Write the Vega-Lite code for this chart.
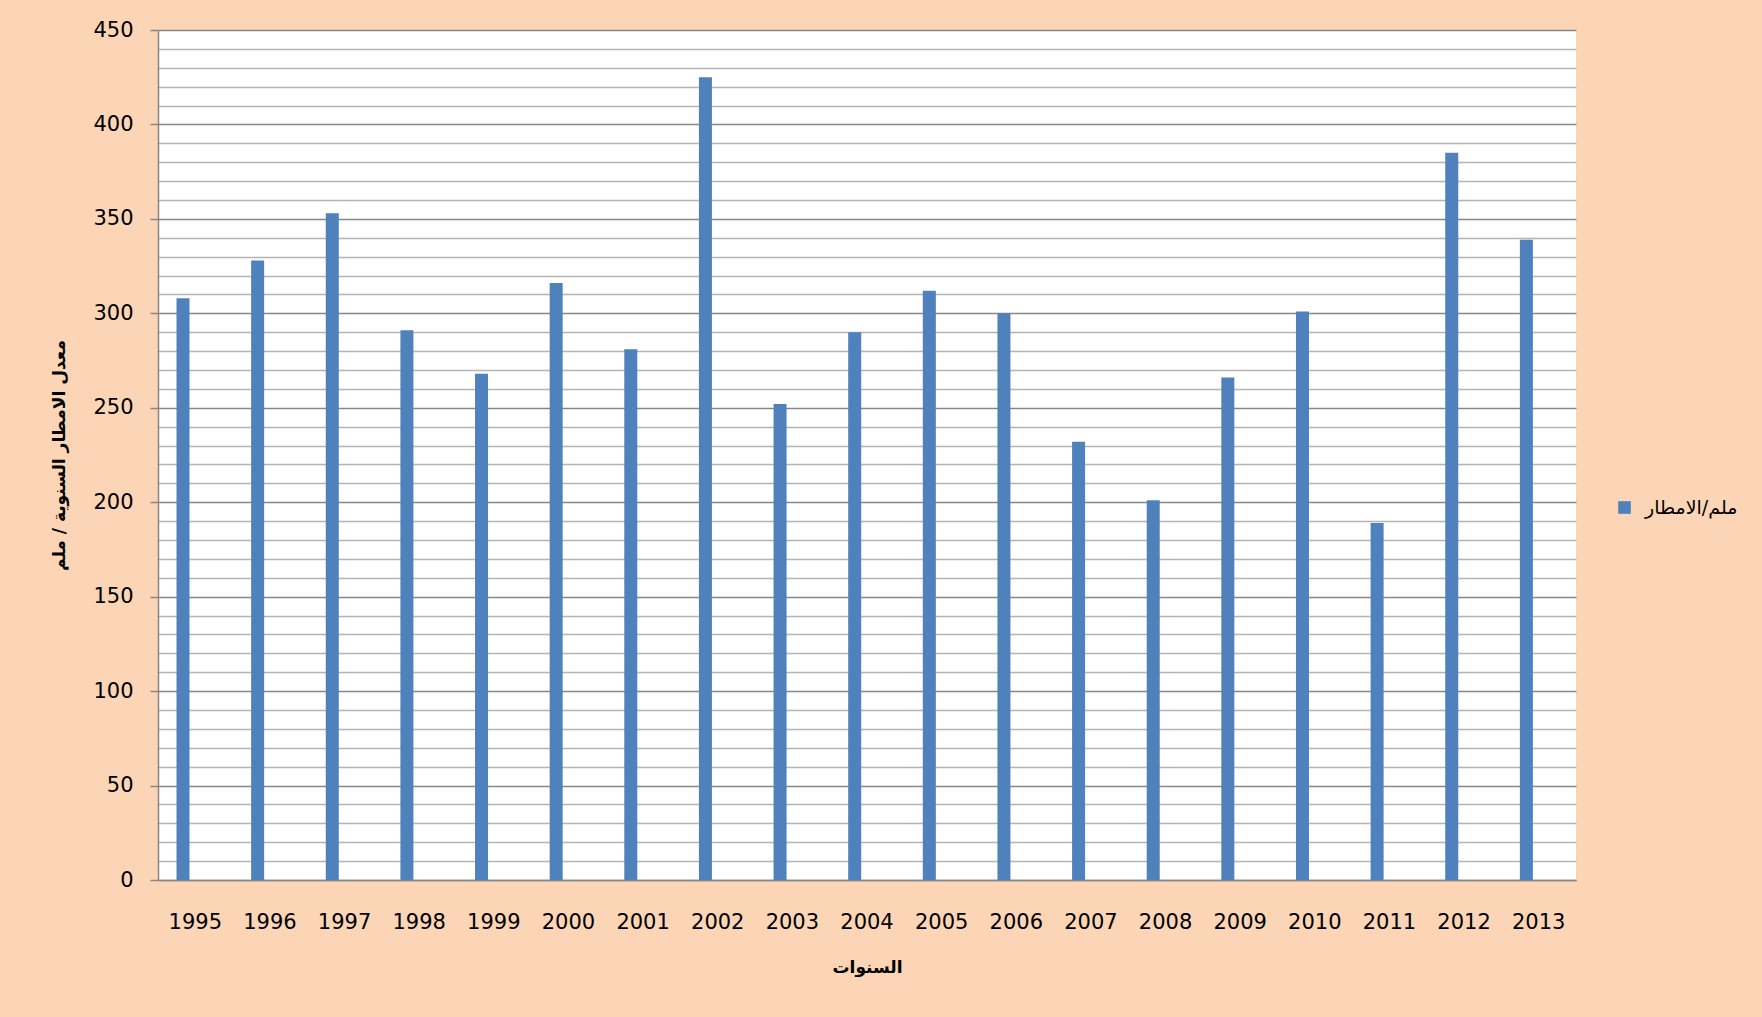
{
  "$schema": "https://vega.github.io/schema/vega-lite/v6.json",
  "width": 1418,
  "height": 850,
  "autosize": "none",
  "padding": {"left": 158, "top": 30, "right": 186, "bottom": 137},
  "background": "#FBD5B5",
  "config": {"view": {"fill": "#FFFFFF", "stroke": null}, "font": "DejaVu Sans"},
  "data": {"values": [
    {"year": "1995", "rain": 308, "series": "ملم/الامطار"},
    {"year": "1996", "rain": 328, "series": "ملم/الامطار"},
    {"year": "1997", "rain": 353, "series": "ملم/الامطار"},
    {"year": "1998", "rain": 291, "series": "ملم/الامطار"},
    {"year": "1999", "rain": 268, "series": "ملم/الامطار"},
    {"year": "2000", "rain": 316, "series": "ملم/الامطار"},
    {"year": "2001", "rain": 281, "series": "ملم/الامطار"},
    {"year": "2002", "rain": 425, "series": "ملم/الامطار"},
    {"year": "2003", "rain": 252, "series": "ملم/الامطار"},
    {"year": "2004", "rain": 290, "series": "ملم/الامطار"},
    {"year": "2005", "rain": 312, "series": "ملم/الامطار"},
    {"year": "2006", "rain": 300, "series": "ملم/الامطار"},
    {"year": "2007", "rain": 232, "series": "ملم/الامطار"},
    {"year": "2008", "rain": 201, "series": "ملم/الامطار"},
    {"year": "2009", "rain": 266, "series": "ملم/الامطار"},
    {"year": "2010", "rain": 301, "series": "ملم/الامطار"},
    {"year": "2011", "rain": 189, "series": "ملم/الامطار"},
    {"year": "2012", "rain": 385, "series": "ملم/الامطار"},
    {"year": "2013", "rain": 339, "series": "ملم/الامطار"}
  ]},
  "mark": {"type": "bar"},
  "encoding": {
    "x": {
      "field": "year", "type": "ordinal",
      "scale": {"paddingInner": 0, "paddingOuter": 0},
      "axis": {
        "title": "السنوات", "labelAngle": 0, "labelFontSize": 21, "labelColor": "#000000",
        "labelPadding": 31, "ticks": false, "domainColor": "#868686", "domainWidth": 1.5,
        "titleFontSize": 17, "titleFontWeight": "bold", "titlePadding": 27, "titleColor": "#000000"
      }
    },
    "xOffset": {
      "field": "series",
      "scale": {"domain": ["ملم/الامطار", "_"], "paddingInner": 0.472, "paddingOuter": 0.752}
    },
    "y": {
      "field": "rain", "type": "quantitative",
      "scale": {"domain": [0, 450], "nice": false},
      "axis": {
        "title": "معدل الامطار السنوية / ملم",
        "values": [0,10,20,30,40,50,60,70,80,90,100,110,120,130,140,150,160,170,180,190,200,210,220,230,240,250,260,270,280,290,300,310,320,330,340,350,360,370,380,390,400,410,420,430,440,450],
        "labelExpr": "datum.value % 50 === 0 ? datum.label : ''",
        "labelFontSize": 21, "labelColor": "#000000", "labelPadding": 17,
        "gridColor": {"condition": {"test": "datum.value % 50 === 0", "value": "#878787"}, "value": "#B4B4B4"},
        "gridWidth": 1.5,
        "tickSize": 8,
        "tickWidth": 1.5,
        "tickColor": {"condition": {"test": "datum.value % 50 === 0", "value": "#878787"}, "value": "transparent"},
        "domainColor": "#868686", "domainWidth": 1.5,
        "titleFontSize": 17, "titleFontWeight": "bold", "titlePadding": 24, "titleColor": "#000000"
      }
    },
    "color": {
      "field": "series", "type": "nominal",
      "scale": {"domain": ["ملم/الامطار"], "range": ["#4F81BD"]},
      "legend": {
        "title": null, "orient": "none", "legendX": 1457, "legendY": 468, "padding": 0,
        "symbolType": "square", "symbolSize": 160, "symbolStrokeWidth": 0,
        "labelFontSize": 19, "labelColor": "#000000", "labelOffset": 11
      }
    }
  }
}
